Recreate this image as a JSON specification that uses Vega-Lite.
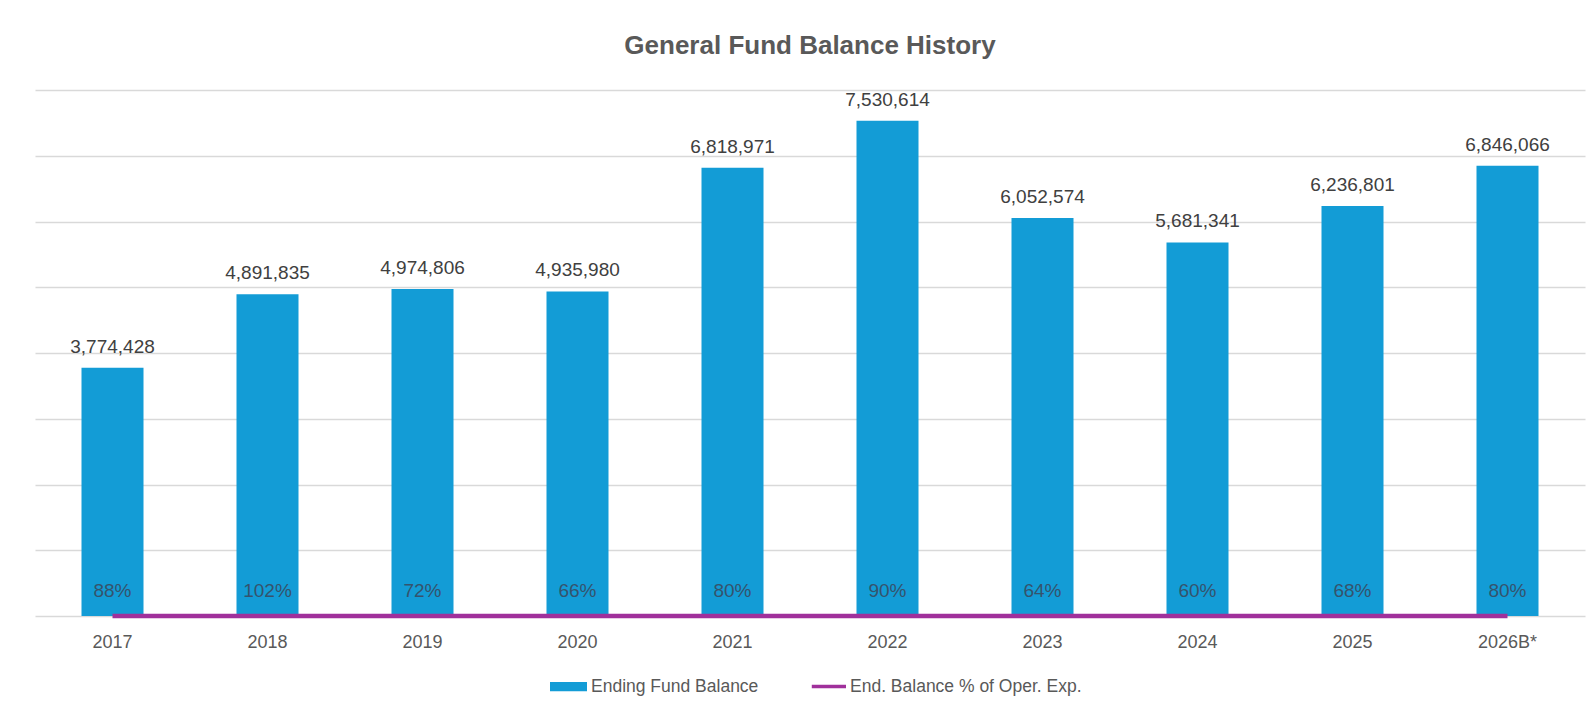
{
  "$schema": "https://vega.github.io/schema/vega-lite/v6.json",
  "width": 1550,
  "height": 526,
  "autosize": {"type": "none"},
  "padding": {"left": 35, "top": 90, "right": 8, "bottom": 97},
  "background": "white",
  "config": {
    "view": {"stroke": null},
    "font": "Liberation Sans"
  },
  "title": {
    "text": "General Fund Balance History",
    "anchor": "middle",
    "frame": "group",
    "fontSize": 26,
    "fontWeight": "bold",
    "color": "#595959",
    "font": "Liberation Sans",
    "offset": 31
  },
  "data": {
    "values": [
      {"year": "2017", "balance": 3774428, "pct": 0.88, "series": "Ending Fund Balance"},
      {"year": "2018", "balance": 4891835, "pct": 1.02, "series": "Ending Fund Balance"},
      {"year": "2019", "balance": 4974806, "pct": 0.72, "series": "Ending Fund Balance"},
      {"year": "2020", "balance": 4935980, "pct": 0.66, "series": "Ending Fund Balance"},
      {"year": "2021", "balance": 6818971, "pct": 0.80, "series": "Ending Fund Balance"},
      {"year": "2022", "balance": 7530614, "pct": 0.90, "series": "Ending Fund Balance"},
      {"year": "2023", "balance": 6052574, "pct": 0.64, "series": "Ending Fund Balance"},
      {"year": "2024", "balance": 5681341, "pct": 0.60, "series": "Ending Fund Balance"},
      {"year": "2025", "balance": 6236801, "pct": 0.68, "series": "Ending Fund Balance"},
      {"year": "2026B*", "balance": 6846066, "pct": 0.80, "series": "Ending Fund Balance"}
    ]
  },
  "encoding": {
    "x": {
      "field": "year",
      "type": "nominal",
      "sort": null,
      "title": null,
      "scale": {"paddingInner": 0.6, "paddingOuter": 0.3},
      "axis": {
        "labelAngle": 0,
        "domain": false,
        "ticks": false,
        "labelPadding": 17,
        "labelFontSize": 18,
        "labelColor": "#595959",
        "labelFont": "Liberation Sans"
      }
    }
  },
  "layer": [
    {
      "mark": {"type": "bar"},
      "encoding": {
        "y": {
          "field": "balance",
          "type": "quantitative",
          "title": null,
          "scale": {"domain": [0, 8000000], "nice": false},
          "axis": {
            "values": [0, 1000000, 2000000, 3000000, 4000000, 5000000, 6000000, 7000000, 8000000],
            "labels": false,
            "ticks": false,
            "domain": false,
            "grid": true,
            "gridColor": "#D9D9D9",
            "gridWidth": 1.5
          }
        },
        "color": {
          "field": "series",
          "type": "nominal",
          "scale": {
            "domain": ["Ending Fund Balance", "End. Balance %  of Oper. Exp."],
            "range": ["#139CD6", "#A0309B"]
          },
          "legend": {
            "title": null,
            "orient": "none",
            "legendX": 515,
            "legendY": 578,
            "direction": "horizontal",
            "padding": 0,
            "symbolSize": 1369,
            "symbolStrokeWidth": 0,
            "labelFontSize": 17.5,
            "labelLimit": 0,
            "labelColor": "#595959",
            "labelFont": "Liberation Sans",
            "labelOffset": 4,
            "columnPadding": 50,
            "encode": {
              "symbols": {
                "update": {
                  "shape": {"signal": "datum.label === 'Ending Fund Balance' ? 'M-1,-0.25H1V0.25H-1Z' : 'M-0.85,-0.09H1V0.09H-0.85Z'"}
                }
              }
            }
          }
        }
      }
    },
    {
      "mark": {"type": "text", "baseline": "middle", "dy": -21, "fontSize": 19, "color": "#404040", "font": "Liberation Sans"},
      "encoding": {
        "y": {"field": "balance", "type": "quantitative"},
        "text": {"field": "balance", "type": "quantitative", "format": ","}
      }
    },
    {
      "mark": {"type": "line", "color": "#A0309B", "strokeWidth": 4.5},
      "encoding": {
        "y": {"field": "pct", "type": "quantitative"}
      }
    },
    {
      "mark": {"type": "text", "baseline": "middle", "dy": -25, "fontSize": 19, "color": "#35536D", "font": "Liberation Sans"},
      "encoding": {
        "y": {"field": "pct", "type": "quantitative"},
        "text": {"field": "pct", "type": "quantitative", "format": ".0%"}
      }
    }
  ]
}
